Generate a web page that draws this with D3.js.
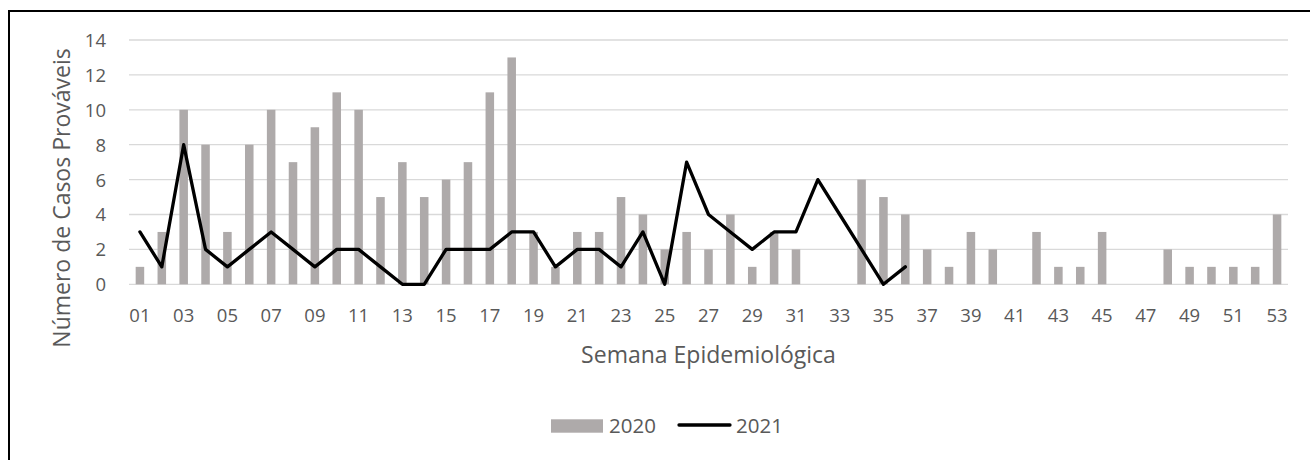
<!DOCTYPE html>
<html>
<head>
<meta charset="utf-8">
<script src="https://cdn.jsdelivr.net/npm/d3@7"></script>
<style>
  html, body { margin: 0; padding: 0; background: #fff; }
  svg { display: block; }
  text { font-family: "Open Sans", sans-serif; fill: #595959; }
</style>
</head>
<body>
<svg id="chart" width="1310" height="460"></svg>
<script>
const weeks = d3.range(1, 54);
const weekLabels = weeks.map(w => String(w).padStart(2, "0"));
const values2020 = [1,3,10,8,3,8,10,7,9,11,10,5,7,5,6,7,11,13,3,1,3,3,5,4,2,3,2,4,1,3,2,0,0,6,5,4,2,1,3,2,0,3,1,1,3,0,0,2,1,1,1,1,4];
const values2021 = [3,1,8,2,1,2,3,2,1,2,2,1,0,0,2,2,2,3,3,1,2,2,1,3,0,7,4,3,2,3,3,6,4,2,0,1];
const yTicks = [0,2,4,6,8,10,12,14];
const seriesNames = ["2020", "2021"];
const yTitle = "Número de Casos Prováveis";
const xTitle = "Semana Epidemiológica";

const svg = d3.select("#chart");

// outer border
svg.append("rect")
  .attr("x", 9).attr("y", 11)
  .attr("width", 1320).attr("height", 470)
  .attr("fill", "none").attr("stroke", "#000").attr("stroke-width", 2);

const plot = { left: 129, right: 1288, top: 40, bottom: 284.3 };

const x = d3.scaleBand()
  .domain(weekLabels)
  .range([plot.left, plot.right])
  .paddingInner(0.61)
  .paddingOuter(0.305);

const y = d3.scaleLinear()
  .domain([0, 14])
  .range([plot.bottom, plot.top]);

// gridlines
svg.append("g")
  .selectAll("line")
  .data(yTicks)
  .join("line")
  .attr("x1", plot.left).attr("x2", plot.right)
  .attr("y1", d => y(d)).attr("y2", d => y(d))
  .attr("stroke", "#d9d9d9").attr("stroke-width", 1.3);

// y axis labels
const yAxis = d3.axisLeft(y).tickValues(yTicks).tickSize(0).tickPadding(0);
const yg = svg.append("g").attr("transform", `translate(106,0)`).call(yAxis);
yg.select(".domain").remove();
yg.selectAll("text")
  .attr("font-size", "18.5px")
  .attr("dy", "0.35em")
  .style("font-family", "'Open Sans', sans-serif")
  .attr("fill", "#595959");

// x axis labels
const xAxis = d3.axisBottom(x)
  .tickValues(weekLabels.filter((d, i) => i % 2 === 0))
  .tickSize(0).tickPadding(0);
const xg = svg.append("g").attr("transform", `translate(0,${plot.bottom})`).call(xAxis);
xg.select(".domain").remove();
xg.selectAll("text")
  .attr("font-size", "18.5px")
  .attr("y", 31)
  .attr("dy", "0.35em")
  .style("font-family", "'Open Sans', sans-serif")
  .attr("fill", "#595959");

// bars 2020
svg.append("g")
  .selectAll("rect")
  .data(values2020.map((v, i) => ({ w: weekLabels[i], v })))
  .join("rect")
  .attr("x", d => x(d.w))
  .attr("width", x.bandwidth())
  .attr("y", d => y(d.v))
  .attr("height", d => y(0) - y(d.v))
  .attr("fill", "#aeaaaa");

// line 2021
const line = d3.line()
  .x(d => x(d.w) + x.bandwidth() / 2)
  .y(d => y(d.v));
svg.append("path")
  .datum(values2021.map((v, i) => ({ w: weekLabels[i], v })))
  .attr("d", line)
  .attr("fill", "none")
  .attr("stroke", "#000")
  .attr("stroke-width", 3.3)
  .attr("stroke-linejoin", "round")
  .attr("stroke-linecap", "round");

// axis titles
svg.append("text")
  .attr("x", (plot.left + plot.right) / 2)
  .attr("y", 355)
  .attr("dy", "0.35em")
  .attr("text-anchor", "middle")
  .attr("font-size", "23px")
  .text(xTitle);

svg.append("text")
  .attr("transform", `translate(62,198) rotate(-90)`)
  .attr("dy", "0.35em")
  .attr("text-anchor", "middle")
  .attr("font-size", "23px")
  .text(yTitle);

// legend
const lg = svg.append("g");
lg.append("rect")
  .attr("x", 551).attr("y", 419.3)
  .attr("width", 52).attr("height", 13.4)
  .attr("fill", "#aeaaaa");
lg.append("text")
  .attr("x", 609).attr("y", 426)
  .attr("dy", "0.35em")
  .attr("font-size", "20.5px")
  .text(seriesNames[0]);
lg.append("line")
  .attr("x1", 679).attr("x2", 730)
  .attr("y1", 425).attr("y2", 425)
  .attr("stroke", "#000").attr("stroke-width", 3.3)
  .attr("stroke-linecap", "round");
lg.append("text")
  .attr("x", 736).attr("y", 426)
  .attr("dy", "0.35em")
  .attr("font-size", "20.5px")
  .text(seriesNames[1]);
</script>
</body>
</html>
